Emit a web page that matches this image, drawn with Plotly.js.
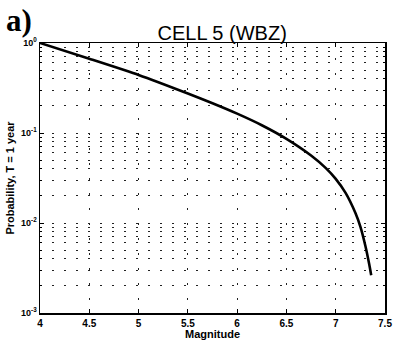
<!DOCTYPE html>
<html>
<head>
<meta charset="utf-8">
<script src="https://cdn.plot.ly/plotly-3.0.1.min.js"></script>
<style>html,body{margin:0;padding:0;background:#fff;}#chart{width:393px;height:350px;}</style>
</head>
<body>
<div id="chart"></div>
<script>
// Data
const magnitude = [4.0, 4.5, 5.0, 5.5, 5.75, 6.0, 6.25, 6.5, 6.75, 6.9, 7.0, 7.1, 7.2, 7.25, 7.3, 7.34, 7.36];
const probability = [1.0, 0.668, 0.442, 0.275, 0.214, 0.164, 0.122, 0.0861, 0.0562, 0.0407, 0.0309, 0.0216, 0.0129, 0.00912, 0.00562, 0.00347, 0.00263];
const xTickVals = [4, 4.5, 5, 5.5, 6, 6.5, 7, 7.5];
const xTickText = ["4", "4.5", "5", "5.5", "6", "6.5", "7", "7.5"];
const decades = [0.001, 0.01, 0.1, 1];
const decadeLabels = ["10<sup>-3</sup>", "10<sup>-2</sup>", "10<sup>-1</sup>", "10<sup>0</sup>"];

// Minor log positions (2..9 in each decade)
const yMinorVals = [];
decades.slice(0, 3).forEach(d => {
  for (let k = 2; k <= 9; k++) yMinorVals.push(d * k);
});

const trace = {
  x: magnitude,
  y: probability,
  type: "scatter",
  mode: "lines",
  line: {color: "#000", width: 2.6, shape: "spline", smoothing: 0.5},
  hoverinfo: "skip"
};

const font = "Liberation Sans, Arial, sans-serif";

const layout = {
  width: 393, height: 350,
  margin: {l: 40, r: 8, t: 43, b: 37},
  paper_bgcolor: "#fff",
  plot_bgcolor: "#fff",
  showlegend: false,
  font: {family: font, color: "#000"},
  title: {
    text: "CELL 5 (WBZ)",
    font: {family: font, size: 20, color: "#000"},
    x: 0.528, xref: "paper", xanchor: "center",
    y: 1, yref: "paper", yanchor: "bottom", pad: {b: 3}
  },
  xaxis: {
    range: [4, 7.5],
    tickvals: xTickVals, ticktext: xTickText,
    tickfont: {size: 10, family: font, weight: "bold"},
    ticks: "inside", ticklen: 4, tickcolor: "#000",
    showline: true, linecolor: "#000", linewidth: 1.5, mirror: "ticks",
    showgrid: true, gridcolor: "#222", gridwidth: 1, griddash: "2px,13px",
    zeroline: false,
    title: {text: "Magnitude", font: {size: 11, family: font, weight: "bold"}, standoff: 2}
  },
  yaxis: {
    type: "log",
    range: [-3, 0],
    tickvals: decades, ticktext: decadeLabels,
    tickfont: {size: 9, family: font, weight: "bold"},
    ticks: "inside", ticklen: 4, tickcolor: "#000",
    showline: true, linecolor: "#000", linewidth: 1.5, mirror: "ticks",
    showgrid: true, gridcolor: "#222", gridwidth: 1, griddash: "2px,10px",
    zeroline: false,
    minor: {
      tickmode: "array", tickvals: yMinorVals,
      ticks: "inside", ticklen: 2, tickcolor: "#000",
      showgrid: true, gridcolor: "#222", gridwidth: 1, griddash: "2px,10px"
    },
    title: {text: "Probability, T = 1 year", font: {size: 11, family: font, weight: "bold"}, standoff: 4}
  },
  annotations: [{
    text: "<b>a)</b>", xref: "paper", yref: "paper",
    x: -0.104, y: 1.085, xanchor: "left", yanchor: "middle", showarrow: false,
    font: {family: "Liberation Serif, Times New Roman, serif", size: 31, color: "#000"}
  }]
};

Plotly.newPlot("chart", [trace], layout, {displayModeBar: false, staticPlot: true});
</script>
</body>
</html>
